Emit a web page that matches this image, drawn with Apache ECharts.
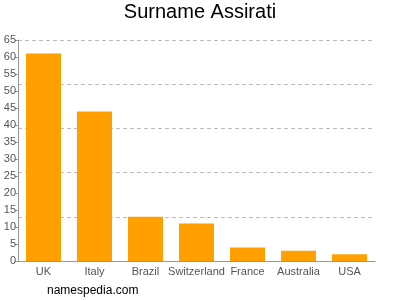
<!DOCTYPE html>
<html><head><meta charset="utf-8">
<script src="https://cdn.jsdelivr.net/npm/echarts@6/dist/echarts.min.js"></script>
<style>html,body{margin:0;padding:0;background:#fff}#c{width:400px;height:300px}</style>
</head><body><div id="c"></div>
<script>
var categories = ["UK", "Italy", "Brazil", "Switzerland", "France", "Australia", "USA"];
var counts = [61, 44, 13, 11, 4, 3, 2];
var yMax = 65;

var chart = echarts.init(document.getElementById('c'), null, {renderer: 'canvas'});
chart.setOption({
  animation: false,
  title: [{
    text: 'Surname Assirati', left: 'center', top: 2, padding: 0,
    textStyle: {fontFamily: 'Liberation Sans, Arial, sans-serif', fontSize: 20, fontWeight: 'normal', color: '#000'}
  }, {
    text: 'namespedia.com', left: 47, top: 285, padding: 0,
    textStyle: {fontFamily: 'Liberation Sans, Arial, sans-serif', fontSize: 12, fontWeight: 'normal', color: '#000'}
  }],
  grid: {left: 18, right: 25, top: 40, bottom: 39, containLabel: false},
  xAxis: {
    type: 'category', data: categories,
    axisLine: {lineStyle: {color: '#999'}},
    axisTick: {alignWithLabel: true, length: 4, lineStyle: {color: '#999'}},
    axisLabel: {color: '#555', fontSize: 11, margin: 5, fontFamily: 'Liberation Sans, Arial, sans-serif', interval: 0}
  },
  yAxis: [{
    type: 'value', min: 0, max: yMax, interval: 5,
    axisLine: {show: true, lineStyle: {color: '#999'}},
    axisTick: {show: true, length: 3, lineStyle: {color: '#999'}},
    axisLabel: {color: '#555', fontSize: 11, margin: 2, fontFamily: 'Liberation Sans, Arial, sans-serif'},
    splitLine: {show: false}
  }, {
    type: 'value', min: 0, max: yMax, interval: 13, position: 'left',
    axisLine: {show: false}, axisTick: {show: false}, axisLabel: {show: false},
    splitLine: {show: true, lineStyle: {color: '#bbb', type: [4, 3]}}
  }],
  series: [{
    type: 'bar', data: counts, yAxisIndex: 0, barWidth: 35,
    itemStyle: {color: '#ffa000'}
  }]
});
</script></body></html>
